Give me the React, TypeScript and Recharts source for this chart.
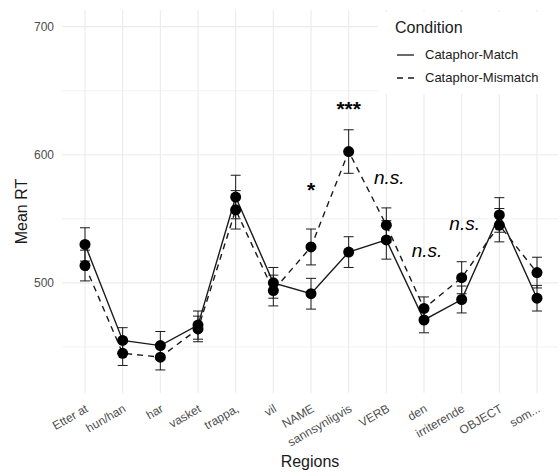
import React from "react";
import {
  LineChart,
  Line,
  XAxis,
  YAxis,
  ErrorBar,
  Legend,
  ReferenceLine,
  ReferenceDot,
} from "recharts";

const regions = [
  "Etter at",
  "hun/han",
  "har",
  "vasket",
  "trappa,",
  "vil",
  "NAME",
  "sannsynligvis",
  "VERB",
  "den",
  "irriterende",
  "OBJECT",
  "som...",
];
const matchRT = [530, 455, 451, 467, 567, 500, 491.5, 524, 533.5, 471, 487, 553, 488];
const matchSE = [13, 10, 11, 11, 17, 12, 12, 12, 15, 10, 10.5, 13.5, 10];
const mismatchRT = [513.5, 445, 442, 464, 557, 494, 528, 602.5, 545, 480, 504, 545, 508];
const mismatchSE = [12, 9.5, 10, 10, 15, 12, 14, 17, 13.5, 9, 12.5, 13, 12];

const yTicks = [500, 600, 700];
const minorGrid = [450, 550, 650];

// significance labels
const annotRegions = ["NAME", "sannsynligvis", "VERB", "den", "irriterende"];
const annotLabels = ["*", "***", "n.s.", "n.s.", "n.s."];
const annotRT = [567, 630, 577, 520, 541];

const FONT = "'Liberation Sans', Arial, sans-serif";
const INK = "#1a1a1a";
const GRID = "#ebebeb";

const data = regions.map((region, i) => ({
  region,
  match: matchRT[i],
  matchSE: matchSE[i],
  mismatch: mismatchRT[i],
  mismatchSE: mismatchSE[i],
}));

function RegionTick({ x, y, payload }: any) {
  const tx = x + 4;
  const ty = y + 10;
  return (
    <text
      x={tx}
      y={ty}
      transform={`rotate(-30, ${tx}, ${ty})`}
      textAnchor="end"
      fontSize={12}
      fontFamily={FONT}
      fill="#4d4d4d"
    >
      {payload.value}
    </text>
  );
}

function ConditionLegend({ payload }: any) {
  const items = payload ?? [];
  return (
    <div
      style={{
        width: 182,
        height: 82,
        background: "#fff",
        position: "relative",
        fontFamily: FONT,
        color: INK,
      }}
    >
      <div style={{ position: "absolute", left: 17, top: 7, fontSize: 16 }}>
        Condition
      </div>
      {items.map((entry: any, i: number) => (
        <div
          key={entry.value}
          style={{
            position: "absolute",
            left: 19,
            top: 36 + i * 23,
            height: 14,
            display: "flex",
            alignItems: "center",
          }}
        >
          <svg width={17} height={10}>
            <line
              x1={0}
              y1={5}
              x2={17}
              y2={5}
              stroke={INK}
              strokeWidth={1.3}
              strokeDasharray={entry.payload?.strokeDasharray}
            />
          </svg>
          <span style={{ marginLeft: 11, fontSize: 13, lineHeight: "14px" }}>
            {entry.value}
          </span>
        </div>
      ))}
    </div>
  );
}

export default function App() {
  return (
    <div style={{ position: "absolute", left: 0, top: 0, background: "#fff" }}>
      <LineChart
        width={560}
        height={473}
        data={data}
        margin={{ top: 10, right: 2, bottom: 0, left: 0 }}
      >
        {regions.map((r) => (
          <ReferenceLine key={r} x={r} stroke={GRID} strokeWidth={1.1} />
        ))}
        {yTicks.map((v) => (
          <ReferenceLine key={v} y={v} stroke={GRID} strokeWidth={1.1} />
        ))}
        {minorGrid.map((v) => (
          <ReferenceLine key={v} y={v} stroke="#eeeeee" strokeWidth={0.8} />
        ))}
        <XAxis
          dataKey="region"
          scale="point"
          padding={{ left: 23, right: 21 }}
          height={80}
          interval={0}
          tickLine={false}
          axisLine={false}
          tick={<RegionTick />}
          label={{
            value: "Regions",
            position: "insideBottom",
            offset: 6,
            fill: INK,
            fontSize: 16,
            fontFamily: FONT,
          }}
        />
        <YAxis
          type="number"
          domain={[414, 713]}
          ticks={yTicks}
          width={62}
          tickLine={false}
          axisLine={false}
          tick={{ fontSize: 12, fill: "#4d4d4d", fontFamily: FONT }}
          label={{
            content: ({ viewBox }: any) => {
              const cx = viewBox.x + 27;
              const cy = viewBox.y + viewBox.height / 2 + 10;
              return (
                <text
                  x={cx}
                  y={cy}
                  transform={`rotate(-90, ${cx}, ${cy})`}
                  textAnchor="middle"
                  fontSize={16}
                  fontFamily={FONT}
                  fill={INK}
                >
                  Mean RT
                </text>
              );
            },
          }}
        />
        <Line
          dataKey="match"
          name="Cataphor-Match"
          stroke={INK}
          strokeWidth={1.4}
          dot={{ r: 5.5, fill: "#000", stroke: "#000", strokeWidth: 0 }}
          activeDot={false}
          isAnimationActive={false}
        >
          <ErrorBar dataKey="matchSE" width={5} strokeWidth={1} stroke={INK} />
        </Line>
        <Line
          dataKey="mismatch"
          name="Cataphor-Mismatch"
          stroke={INK}
          strokeWidth={1.4}
          strokeDasharray="6 5"
          dot={{ r: 5.5, fill: "#000", stroke: "#000", strokeWidth: 0, strokeDasharray: "" }}
          activeDot={false}
          isAnimationActive={false}
        >
          <ErrorBar dataKey="mismatchSE" width={5} strokeWidth={1} stroke={INK} />
        </Line>
        {annotRegions.map((r, i) => {
          const lab = annotLabels[i];
          const italic = lab.startsWith("n");
          return (
            <ReferenceDot
              key={r}
              x={r}
              y={annotRT[i]}
              r={0}
              ifOverflow="visible"
              shape={(p: any) => (
                <text
                  x={p.cx + (italic ? 3 : 0)}
                  y={p.cy}
                  textAnchor="middle"
                  fontSize={italic ? 19 : 21}
                  fontWeight={italic ? "normal" : "bold"}
                  fontStyle={italic ? "italic" : "normal"}
                  fontFamily={FONT}
                  fill="#000"
                >
                  {lab}
                </text>
              )}
            />
          );
        })}
        <Legend
          layout="horizontal"
          verticalAlign="middle"
          align="center"
          content={<ConditionLegend />}
          wrapperStyle={{ left: 378, top: 12, width: 182 }}
        />
      </LineChart>
    </div>
  );
}
